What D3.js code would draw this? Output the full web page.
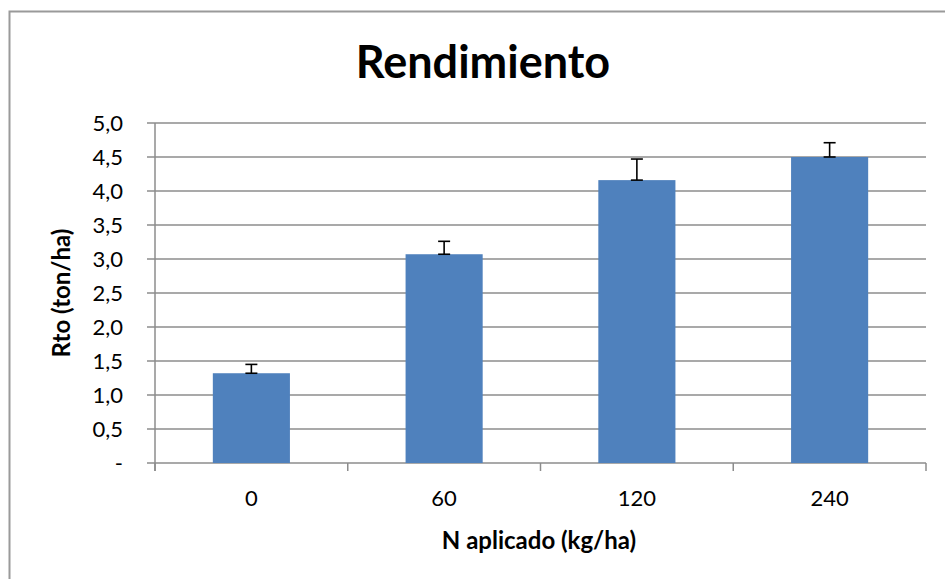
<!DOCTYPE html>
<html>
<head>
<meta charset="utf-8">
<script src="https://cdn.jsdelivr.net/npm/d3@7"></script>
<style>
  body { margin: 0; background: #fff; }
  svg text { font-family: Lato, "Open Sans", sans-serif; fill: #000; }
</style>
</head>
<body>
<svg id="chart" width="945" height="579"></svg>
<script>
// data
var categories = ["0", "60", "120", "240"];
var rendimiento = [1.32, 3.07, 4.16, 4.50];
var errores = [0.13, 0.19, 0.31, 0.21];
var yTicks = [0, 0.5, 1, 1.5, 2, 2.5, 3, 3.5, 4, 4.5, 5];

var width = 945, height = 579;
var margin = { top: 123, right: 19, bottom: 116, left: 155 };

var svg = d3.select("#chart");

// chart border
svg.append("rect")
    .attr("x", 9.5).attr("y", 11.5)
    .attr("width", 960).attr("height", 600)
    .attr("fill", "none")
    .attr("stroke", "#9a9a9a")
    .attr("stroke-width", 2);

var x = d3.scaleBand()
    .domain(categories)
    .range([margin.left, width - margin.right])
    .paddingInner(0.6)
    .paddingOuter(0.3);

var y = d3.scaleLinear()
    .domain([0, 5])
    .range([height - margin.bottom, margin.top]);

var fmt = function(d) { return d === 0 ? "-" : d3.format(".1f")(d).replace(".", ","); };

// gridlines
svg.append("g")
    .selectAll("line")
    .data(yTicks)
    .enter()
    .append("line")
        .attr("x1", margin.left - 8)
        .attr("x2", width - margin.right)
        .attr("y1", d => y(d))
        .attr("y2", d => y(d))
        .attr("stroke", "#8c8c8c")
        .attr("stroke-width", 1.5);

// y axis line
svg.append("line")
    .attr("x1", margin.left).attr("x2", margin.left)
    .attr("y1", y(5)).attr("y2", y(0) + 8)
    .attr("stroke", "#8c8c8c")
    .attr("stroke-width", 1.5);

// y tick labels
svg.append("g")
    .selectAll("text")
    .data(yTicks)
    .enter()
    .append("text")
        .attr("x", 123)
        .attr("y", d => y(d))
        .attr("dy", "0.36em")
        .attr("text-anchor", "end")
        .style("font-size", "22px")
        .text(fmt);

// x category boundary ticks
var plotW = width - margin.right - margin.left;
var bounds = d3.range(categories.length + 1).map(i => margin.left + i * plotW / categories.length);
svg.append("g")
    .selectAll("line")
    .data(bounds)
    .enter()
    .append("line")
        .attr("x1", d => d).attr("x2", d => d)
        .attr("y1", y(0)).attr("y2", y(0) + 8)
        .attr("stroke", "#8c8c8c")
        .attr("stroke-width", 1.5);

// bars
svg.append("g")
    .selectAll("rect")
    .data(rendimiento)
    .enter()
    .append("rect")
        .attr("x", (d, i) => x(categories[i]))
        .attr("y", d => y(d))
        .attr("width", x.bandwidth())
        .attr("height", d => y(0) - y(d))
        .attr("fill", "#4f81bd");

// error bars (plus direction)
var eb = svg.append("g")
    .attr("stroke", "#000")
    .attr("stroke-width", 1.6);
rendimiento.forEach(function(v, i) {
    var cx = x(categories[i]) + x.bandwidth() / 2;
    eb.append("line")
        .attr("x1", cx).attr("x2", cx)
        .attr("y1", y(v)).attr("y2", y(v + errores[i]));
    [v, v + errores[i]].forEach(function(e) {
        eb.append("line")
            .attr("x1", cx - 6).attr("x2", cx + 6)
            .attr("y1", y(e)).attr("y2", y(e));
    });
});

// category labels
svg.append("g")
    .selectAll("text")
    .data(categories)
    .enter()
    .append("text")
        .attr("x", d => x(d) + x.bandwidth() / 2)
        .attr("y", 506)
        .attr("text-anchor", "middle")
        .style("font-size", "22px")
        .text(d => d);

// title
svg.append("text")
    .attr("x", 483)
    .attr("y", 78)
    .attr("text-anchor", "middle")
    .style("font-size", "45px")
    .style("font-weight", "bold")
    .text("Rendimiento");

// axis titles
svg.append("text")
    .attr("x", 539)
    .attr("y", 549)
    .attr("text-anchor", "middle")
    .style("font-size", "24px")
    .style("font-weight", "bold")
    .text("N aplicado (kg/ha)");

svg.append("text")
    .attr("transform", "translate(70,293) rotate(-90)")
    .attr("text-anchor", "middle")
    .style("font-size", "24px")
    .style("font-weight", "bold")
    .text("Rto (ton/ha)");
</script>
</body>
</html>
